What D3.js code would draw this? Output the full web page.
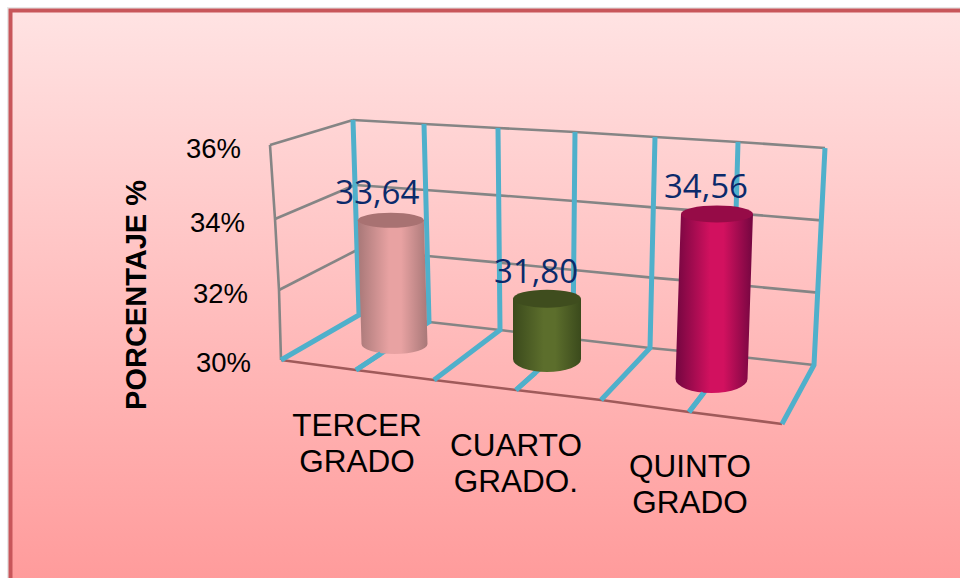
<!DOCTYPE html>
<html><head><meta charset="utf-8">
<script src="https://cdn.jsdelivr.net/npm/d3@7"></script>
<style>html,body{margin:0;padding:0;background:#fff;overflow:hidden}svg{display:block}</style>
</head><body><svg id="c" width="960" height="578"></svg>
<script>
const categories = [["TERCER","GRADO"],["CUARTO","GRADO."],["QUINTO","GRADO"]];
const values = [33.64, 31.80, 34.56];
const valueLabels = ["33,64","31,80","34,56"];
const tickValues = [30, 32, 34, 36];
const tickLabels = ["30%","32%","34%","36%"];
const axisTitle = "PORCENTAJE %";
const barColors = [
  {edge:"#a87878",mid:"#e8a2a2",top:"#a87272"},
  {edge:"#3b4a1c",mid:"#5c6e2c",top:"#3f4d1e"},
  {edge:"#730640",mid:"#d2115f",top:"#960b47"}
];

const svg = d3.select("#c");
const idx = d3.range(7);
// Perspective frame, expressed as scales over grid index and value
const frontX = d3.scaleLinear().domain(idx).range([281,356,434,516,601,689,782]);
const frontY = d3.scaleLinear().domain(idx).range([360,370,380,390,400,412,424]);
const backBotX = d3.scaleLinear().domain(idx).range([359,429,500,573,650,732,814]);
const backBotY = d3.scaleLinear().domain(idx).range([315,322,330,339,348,356,365]);
const backTopX = d3.scaleLinear().domain(idx).range([353,424,498,575,655,738,825]);
const backTopY = d3.scaleLinear().domain(idx).range([120,124,128,132,137,142,148]);
const vT = d3.scaleLinear().domain([30,36]).range([0,1]);
const lerp = d3.interpolateNumber;
const backPt = (i,v)=>[lerp(backBotX(i),backTopX(i))(vT(v)), lerp(backBotY(i),backTopY(i))(vT(v))];
const sideX = d3.scaleLinear().domain(tickValues).range([281,279,275,270]);
const sideY = d3.scaleLinear().domain(tickValues).range([360,290,219,145]);
const tickRight = d3.scaleLinear().domain(tickValues).range([251,248,245,241]);
const tickBase = d3.scaleLinear().domain(tickValues).range([372,303,232,158]);

// Bars, located on the floor by category index
const cat = [0,1,2];
const baseX = d3.scaleLinear().domain(cat).range([394.5,547,711.5]);
const baseY = d3.scaleLinear().domain(cat).range([344,359,379]);
const unit = d3.scaleLinear().domain(cat).range([34,33.5,36.2]);
const lean = d3.scaleLinear().domain(cat).range([-1,0,1.2]);
const radX = d3.scaleLinear().domain(cat).range([33,34,36]);
const radY = d3.scaleLinear().domain(cat).range([10,13,14]);
const topRadY = d3.scaleLinear().domain(cat).range([7.5,9,8.5]);
const labelDx = d3.scaleLinear().domain(cat).range([-13.5,-11,-11]);

// background
const defs = svg.append("defs");
const bg = defs.append("linearGradient").attr("id","bg").attr("x1",0).attr("y1",0).attr("x2",0).attr("y2",1);
bg.append("stop").attr("offset",0).attr("stop-color","#ffe3e3");
bg.append("stop").attr("offset",1).attr("stop-color","#ff9a9a");
barColors.forEach((c,i)=>{
  const g = defs.append("linearGradient").attr("id","bar"+i);
  [[0,c.edge],[.45,c.mid],[.62,c.mid],[1,c.edge]].forEach(s=>g.append("stop").attr("offset",s[0]).attr("stop-color",s[1]));
});
svg.append("rect").attr("x",7).attr("y",7).attr("width",960).attr("height",580).attr("fill","#e8e8e8");
svg.append("rect").attr("x",10.5).attr("y",10.5).attr("width",960).attr("height",580)
  .attr("fill","url(#bg)").attr("stroke","#c8565a").attr("stroke-width",4);

const grey="#858585", blue="#4fb0cb";
const line = d3.line();
const gGrid = svg.append("g").attr("fill","none");
// back wall and side wall grid
tickValues.forEach(v=>{
  gGrid.append("path").attr("d",line(idx.map(i=>backPt(i,v)))).attr("stroke",grey).attr("stroke-width",2.6);
  gGrid.append("path").attr("d",line([[sideX(v),sideY(v)],backPt(0,v)])).attr("stroke",grey).attr("stroke-width",2.6);
});
// side wall front edge
gGrid.append("path").attr("d",line(tickValues.map(v=>[sideX(v),sideY(v)]))).attr("stroke",grey).attr("stroke-width",2.6);
// front floor edge
gGrid.append("path").attr("d",line(idx.map(i=>[frontX(i),frontY(i)]))).attr("stroke","#a05a5a").attr("stroke-width",2.6);
// blue verticals + floor lines
idx.forEach(i=>{
  gGrid.append("path")
    .attr("d",line([[frontX(i),frontY(i)],backPt(i,30),backPt(i,36)]))
    .attr("stroke",blue).attr("stroke-width",5).attr("stroke-linejoin","miter");
});

// cylinders
const gBars = svg.append("g");
values.forEach((val,i)=>{
  const h = (val-30)*unit(i), bx=baseX(i), by=baseY(i), rx=radX(i), ry=radY(i);
  const tx = bx + lean(i)*(val-30), ty = by-h, trx = rx, try_ = topRadY(i);
  gBars.append("path")
    .attr("d",`M${tx-trx},${ty}L${bx-rx},${by}A${rx},${ry} 0 0 0 ${bx+rx},${by}L${tx+trx},${ty}Z`)
    .attr("fill",`url(#bar${i})`);
  gBars.append("ellipse").attr("cx",tx).attr("cy",ty).attr("rx",trx).attr("ry",try_).attr("fill",barColors[i].top);
  svg.append("text").attr("x",tx+labelDx(i)).attr("y",ty-16)
    .attr("text-anchor","middle").attr("font-family","'Open Sans','Noto Sans',sans-serif")
    .attr("font-size",33).attr("fill","#0b2a6b").text(valueLabels[i]);
});

// front stubs drawn over the cylinders' base
idx.filter(i=>i%2==1).forEach(i=>{
  const a=[frontX(i),frontY(i)], b=backPt(i,30), t=.34;
  svg.append("path").attr("d",line([a,[a[0]+(b[0]-a[0])*t,a[1]+(b[1]-a[1])*t]]))
    .attr("fill","none").attr("stroke",blue).attr("stroke-width",5);
});

// axis labels
const font="'Liberation Sans',Arial,sans-serif";
tickValues.forEach((v,k)=>{
  svg.append("text").attr("x",tickRight(v)).attr("y",tickBase(v)).attr("text-anchor","end")
    .attr("font-family",font).attr("font-size",27.5).attr("fill","#000").text(tickLabels[k]);
});
svg.append("text").attr("transform","translate(146,295) rotate(-90)").attr("text-anchor","middle")
  .attr("font-family",font).attr("font-weight","bold").attr("font-size",29).attr("fill","#000").text(axisTitle);
const catCx = d3.scaleLinear().domain(cat).range([357,516,690]);
const catBase = d3.scaleLinear().domain(cat).range([436,456,477]);
categories.forEach((lines,i)=>{
  lines.forEach((t,j)=>{
    svg.append("text").attr("x",catCx(i)).attr("y",catBase(i)+j*36).attr("text-anchor","middle")
      .attr("font-family",font).attr("font-size",31.5).attr("fill","#000").text(t);
  });
});
</script></body></html>
